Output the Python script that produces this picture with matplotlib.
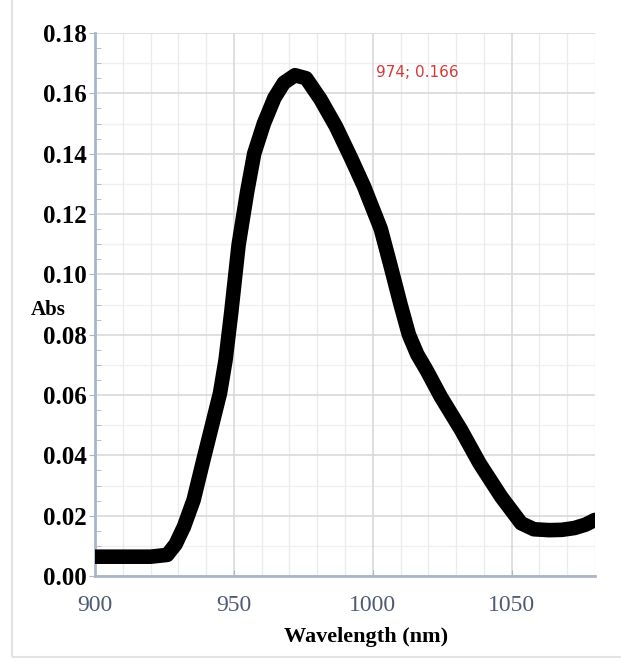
import matplotlib
matplotlib.use("Agg")
import matplotlib.pyplot as plt
import numpy as np
from matplotlib.ticker import MultipleLocator, FormatStrFormatter
from matplotlib.patches import Rectangle

# spectrum
wavelength = [900, 910, 920, 926, 929, 932, 935.5, 939, 942, 945, 947, 949,
              951.7, 954.8, 957.3, 960.8, 964.6, 968, 972, 976, 981.2, 986.8,
              992.2, 996.9, 1002.9, 1006.5, 1010, 1013, 1016, 1019.5, 1024.5,
              1031.8, 1038.4, 1046.2, 1053.4, 1058, 1063.5, 1068, 1072.6,
              1076.5, 1080]
absorb = [0.0064, 0.0064, 0.0064, 0.0070, 0.0105, 0.0163, 0.0252, 0.0384,
          0.0495, 0.0606, 0.0716, 0.0870, 0.1098, 0.1275, 0.1400, 0.1500,
          0.1585, 0.1635, 0.1660, 0.1650, 0.1580, 0.1489, 0.1385, 0.1290,
          0.1150, 0.1025, 0.0900, 0.0800, 0.0735, 0.0680, 0.0594, 0.0484,
          0.0374, 0.0263, 0.0175, 0.0155, 0.0152, 0.0153, 0.0159, 0.0170,
          0.0186]

peak_label = "974; 0.166"
peak_pos = (1001, 0.167)

serif = ["Liberation Serif", "DejaVu Serif"]

fig = plt.figure(figsize=(6.21, 6.58), dpi=100)
ax = fig.add_axes([95 / 621, 1 - 576 / 658, 500 / 621, 543 / 658])

ax.plot(wavelength, absorb, color="black", lw=10.5, solid_capstyle="round",
        solid_joinstyle="round", zorder=3)

ax.set_xlim(900, 1080)
ax.set_ylim(0, 0.18)
ax.xaxis.set_major_locator(MultipleLocator(50))
ax.xaxis.set_minor_locator(MultipleLocator(10))
ax.yaxis.set_major_locator(MultipleLocator(0.02))
ax.yaxis.set_minor_locator(MultipleLocator(0.005))
ax.yaxis.set_major_formatter(FormatStrFormatter("%.2f"))

ax.grid(which="major", color="#d9d9d9", lw=1.2)
ax.grid(which="minor", axis="x", color="#ebebeb", lw=1)
for yv in np.arange(0.01, 0.18, 0.02):
    ax.axhline(yv, color="#f0f0f0", lw=1, zorder=0)
ax.set_axisbelow(True)

for s in ["top", "right"]:
    ax.spines[s].set_visible(False)
for s in ["left", "bottom"]:
    ax.spines[s].set_color("#a9b5c9")
    ax.spines[s].set_linewidth(2)

ax.tick_params(axis="y", which="major", direction="out", length=4, color="#a9b5c9", pad=2)
ax.tick_params(axis="y", which="minor", direction="in", length=4, color="#a9b5c9")
ax.tick_params(axis="x", which="major", direction="in", length=4, color="#a9b5c9", pad=14)
ax.tick_params(axis="x", which="minor", length=0)

for lab in ax.get_yticklabels():
    lab.set_fontfamily(serif)
    lab.set_fontweight("bold")
    lab.set_fontsize(18)
for lab in ax.get_xticklabels():
    lab.set_fontfamily(serif)
    lab.set_fontsize(17)
    lab.set_color("#4d5b73")

ax.text(peak_pos[0], peak_pos[1], peak_label, color="#d33a3a", fontsize=11,
        va="center", ha="left")

fig.text(48 / 621, 1 - 310 / 658, "Abs", family=serif, weight="bold",
         fontsize=15, ha="center", va="center")
fig.text(366 / 621, 1 - 637 / 658, "Wavelength (nm)", family=serif,
         weight="bold", fontsize=16, ha="center", va="center")

fig.add_artist(Rectangle((12 / 621, 0.002), 1, 1.1, transform=fig.transFigure,
                         fill=False, edgecolor="#e3e3e3", lw=1.5))

fig.savefig("out.png", dpi=100)
